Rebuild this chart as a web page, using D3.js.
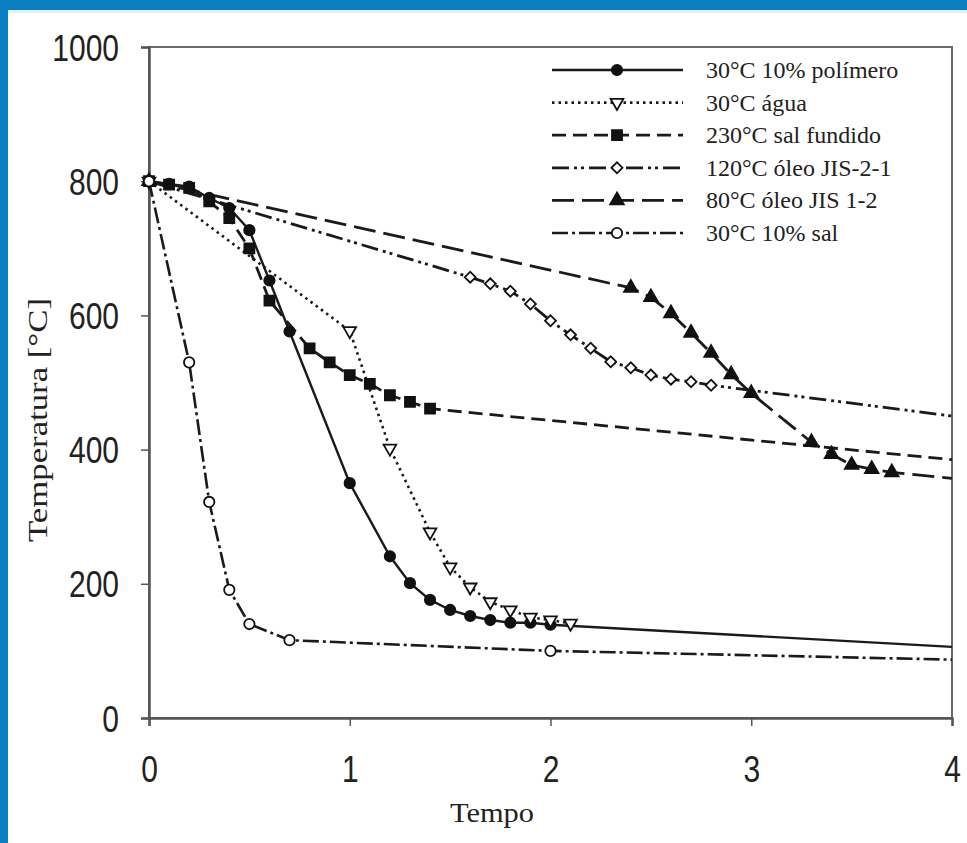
<!DOCTYPE html>
<html lang="pt">
<head>
  <meta charset="utf-8">
  <script src="https://d3js.org/d3.v7.min.js"></script>
  <style>
    body { margin: 0; background: #fff; }
  </style>
</head>
<body>
<script>

  // curvas de resfriamento - temperatura vs tempo

  // eixo
  const xTicks = [0, 1, 2, 3, 4];
  const yTicks = [0, 200, 400, 600, 800, 1000];

  // 30°C 10% polímero
  const polimeroT = [0, 0.1, 0.2, 0.3, 0.4, 0.5, 0.6, 0.7, 1.0, 1.2, 1.3, 1.4, 1.5, 1.6, 1.7, 1.8, 1.9, 2.0, 4.0];
  const polimeroY = [800, 796, 792, 775, 760, 727, 652, 576, 350, 241, 201, 176, 161, 152, 146, 142, 142, 139, 106];

  // 30°C água
  const aguaT = [0, 1.0, 1.2, 1.4, 1.5, 1.6, 1.7, 1.8, 1.9, 2.0, 2.1];
  const aguaY = [800, 577, 402, 277, 225, 195, 173, 161, 150, 146, 141];

  // 230°C sal fundido
  const salFundT = [0, 0.1, 0.2, 0.3, 0.4, 0.5, 0.6, 0.8, 0.9, 1.0, 1.1, 1.2, 1.3, 1.4, 4.0];
  const salFundY = [800, 795, 790, 770, 745, 700, 622, 551, 530, 511, 498, 481, 471, 461, 385];

  // 120°C óleo JIS-2-1
  const jis21T = [0, 1.6, 1.7, 1.8, 1.9, 2.0, 2.1, 2.2, 2.3, 2.4, 2.5, 2.6, 2.7, 2.8, 4.0];
  const jis21Y = [800, 657, 647, 636, 617, 592, 571, 551, 531, 522, 511, 505, 501, 496, 450];

  // 80°C óleo JIS 1-2
  const jis12T = [0, 2.4, 2.5, 2.6, 2.7, 2.8, 2.9, 3.0, 3.3, 3.4, 3.5, 3.6, 3.7, 4.0];
  const jis12Y = [800, 641, 627, 603, 574, 544, 512, 484, 411, 393, 377, 371, 366, 357];

  // 30°C 10% sal
  const sal10T = [0, 0.2, 0.3, 0.4, 0.5, 0.7, 2.0, 4.0];
  const sal10Y = [800, 530, 322, 191, 140, 116, 100, 87];

  const seriesNames = ['30°C 10% polímero', '30°C água', '230°C sal fundido', '120°C óleo JIS-2-1', '80°C óleo JIS 1-2', '30°C 10% sal'];

  const W = 967, H = 843;
  const margin = {left: 149, top: 47, right: 15, bottom: 125};
  const pw = W - margin.left - margin.right;
  const ph = H - margin.top - margin.bottom;

  const zip = (ts, ys) => ts.map((t, i) => ({t: t, v: ys[i]}));

  const series = [
    {name: seriesNames[0], pts: zip(polimeroT, polimeroY), dash: null, sw: 2.4, sym: d3.symbolCircle, size: 85, fill: '#111', rot: 0},
    {name: seriesNames[1], pts: zip(aguaT, aguaY), dash: '2.5,4', sw: 2.6, sym: d3.symbolTriangle, size: 70, fill: '#fff', rot: 180},
    {name: seriesNames[2], pts: zip(salFundT, salFundY), dash: '14,7', sw: 2.8, sym: d3.symbolSquare, size: 100, fill: '#111', rot: 0},
    {name: seriesNames[3], pts: zip(jis21T, jis21Y), dash: '17,5,3,4,3,5', sw: 2.8, sym: d3.symbolSquare, size: 60, fill: '#fff', rot: 45},
    {name: seriesNames[4], pts: zip(jis12T, jis12Y), dash: '22,8', sw: 2.8, sym: d3.symbolTriangle, size: 80, fill: '#111', rot: 0},
    {name: seriesNames[5], pts: zip(sal10T, sal10Y), dash: '16,4,3,4', sw: 2.6, sym: d3.symbolCircle, size: 85, fill: '#fff', rot: 0}
  ];

  const svg = d3.select('body').append('svg')
    .attr('width', W)
    .attr('height', H)
    .style('display', 'block');

  svg.append('rect').attr('width', W).attr('height', H).attr('fill', '#fff');

  // moldura azul
  svg.append('rect').attr('x', 0).attr('y', 0).attr('width', W).attr('height', 10).attr('fill', '#0a7ec1');
  svg.append('rect').attr('x', 0).attr('y', 0).attr('width', 8).attr('height', H).attr('fill', '#0a7ec1');
  svg.append('rect').attr('x', 8).attr('y', 10).attr('width', W - 8).attr('height', 3).attr('fill', '#dff3fb');

  const g = svg.append('g').attr('transform', 'translate(' + margin.left + ',' + margin.top + ')');

  const x = d3.scaleLinear().domain([0, 4]).range([0, pw]);
  const y = d3.scaleLinear().domain([0, 1000]).range([ph, 0]);

  // moldura do gráfico
  g.append('rect')
    .attr('width', pw).attr('height', ph)
    .attr('fill', 'none')
    .attr('stroke', '#6a6a6a')
    .attr('stroke-width', 2);

  const yAxis = g.append('g')
    .call(d3.axisLeft(y).tickValues(yTicks).tickFormat(d3.format('d')).tickSize(8).tickPadding(22));
  const xAxis = g.append('g')
    .attr('transform', 'translate(0,' + ph + ')')
    .call(d3.axisBottom(x).tickValues(xTicks).tickFormat(d3.format('d')).tickSize(8));

  [yAxis, xAxis].forEach(a => {
    a.select('.domain').attr('stroke', '#555').attr('stroke-width', 2.5);
    a.selectAll('.tick line').attr('stroke', '#555').attr('stroke-width', 1.5);
    a.selectAll('.tick text')
      .attr('fill', '#222')
      .style('font-family', '"Liberation Sans", Arial, sans-serif')
      .style('font-size', '30px');
  });
  yAxis.selectAll('.tick text')
    .attr('dy', '0.35em')
    .attr('transform', 'scale(1,1.25)');
  xAxis.selectAll('.tick text')
    .attr('y', 51)
    .attr('dy', 0)
    .attr('transform', 'scale(1,1.25)');

  // títulos dos eixos
  svg.append('text')
    .attr('transform', 'translate(47,' + (margin.top + 373) + ') rotate(-90)')
    .attr('text-anchor', 'middle')
    .attr('textLength', 244)
    .attr('lengthAdjust', 'spacingAndGlyphs')
    .style('font-family', '"Liberation Serif", "Times New Roman", serif')
    .style('font-size', '27px')
    .attr('fill', '#222')
    .text('Temperatura [°C]');

  svg.append('text')
    .attr('x', 492).attr('y', 822)
    .attr('text-anchor', 'middle')
    .attr('textLength', 84)
    .attr('lengthAdjust', 'spacingAndGlyphs')
    .style('font-family', '"Liberation Serif", "Times New Roman", serif')
    .style('font-size', '27px')
    .attr('fill', '#222')
    .text('Tempo');

  const line = d3.line().x(d => x(d.t)).y(d => y(d.v));

  series.forEach(s => {
    g.append('path')
      .datum(s.pts)
      .attr('fill', 'none')
      .attr('stroke', '#1a1a1a')
      .attr('stroke-width', s.sw)
      .attr('stroke-dasharray', s.dash)
      .attr('d', line);
  });

  // marcadores (o ponto final em t=4 é só o prolongamento da linha)
  series.forEach(s => {
    g.append('g').selectAll('path')
      .data(s.pts.filter(d => d.t < 4))
      .enter().append('path')
      .attr('transform', d => 'translate(' + x(d.t) + ',' + y(d.v) + ') rotate(' + s.rot + ')')
      .attr('d', d3.symbol().type(s.sym).size(s.size))
      .attr('fill', s.fill)
      .attr('stroke', '#111')
      .attr('stroke-width', 1.8);
  });

  // legenda
  const legend = svg.append('g');
  const lgRow = d3.scaleLinear().domain([0, 5]).range([70, 233]);
  series.forEach((s, i) => {
    const ly = lgRow(i);
    legend.append('line')
      .attr('x1', 552).attr('x2', 683)
      .attr('y1', ly).attr('y2', ly)
      .attr('stroke', '#1a1a1a')
      .attr('stroke-width', s.sw)
      .attr('stroke-dasharray', s.dash);
    legend.append('path')
      .attr('transform', 'translate(617,' + ly + ') rotate(' + s.rot + ')')
      .attr('d', d3.symbol().type(s.sym).size(s.size))
      .attr('fill', s.fill)
      .attr('stroke', '#111')
      .attr('stroke-width', 1.8);
    legend.append('text')
      .attr('x', 706).attr('y', ly + 8)
      .style('font-family', '"Liberation Serif", "Times New Roman", serif')
      .style('font-size', '24px')
      .attr('fill', '#222')
      .text(s.name);
  });

</script>
</body>
</html>
